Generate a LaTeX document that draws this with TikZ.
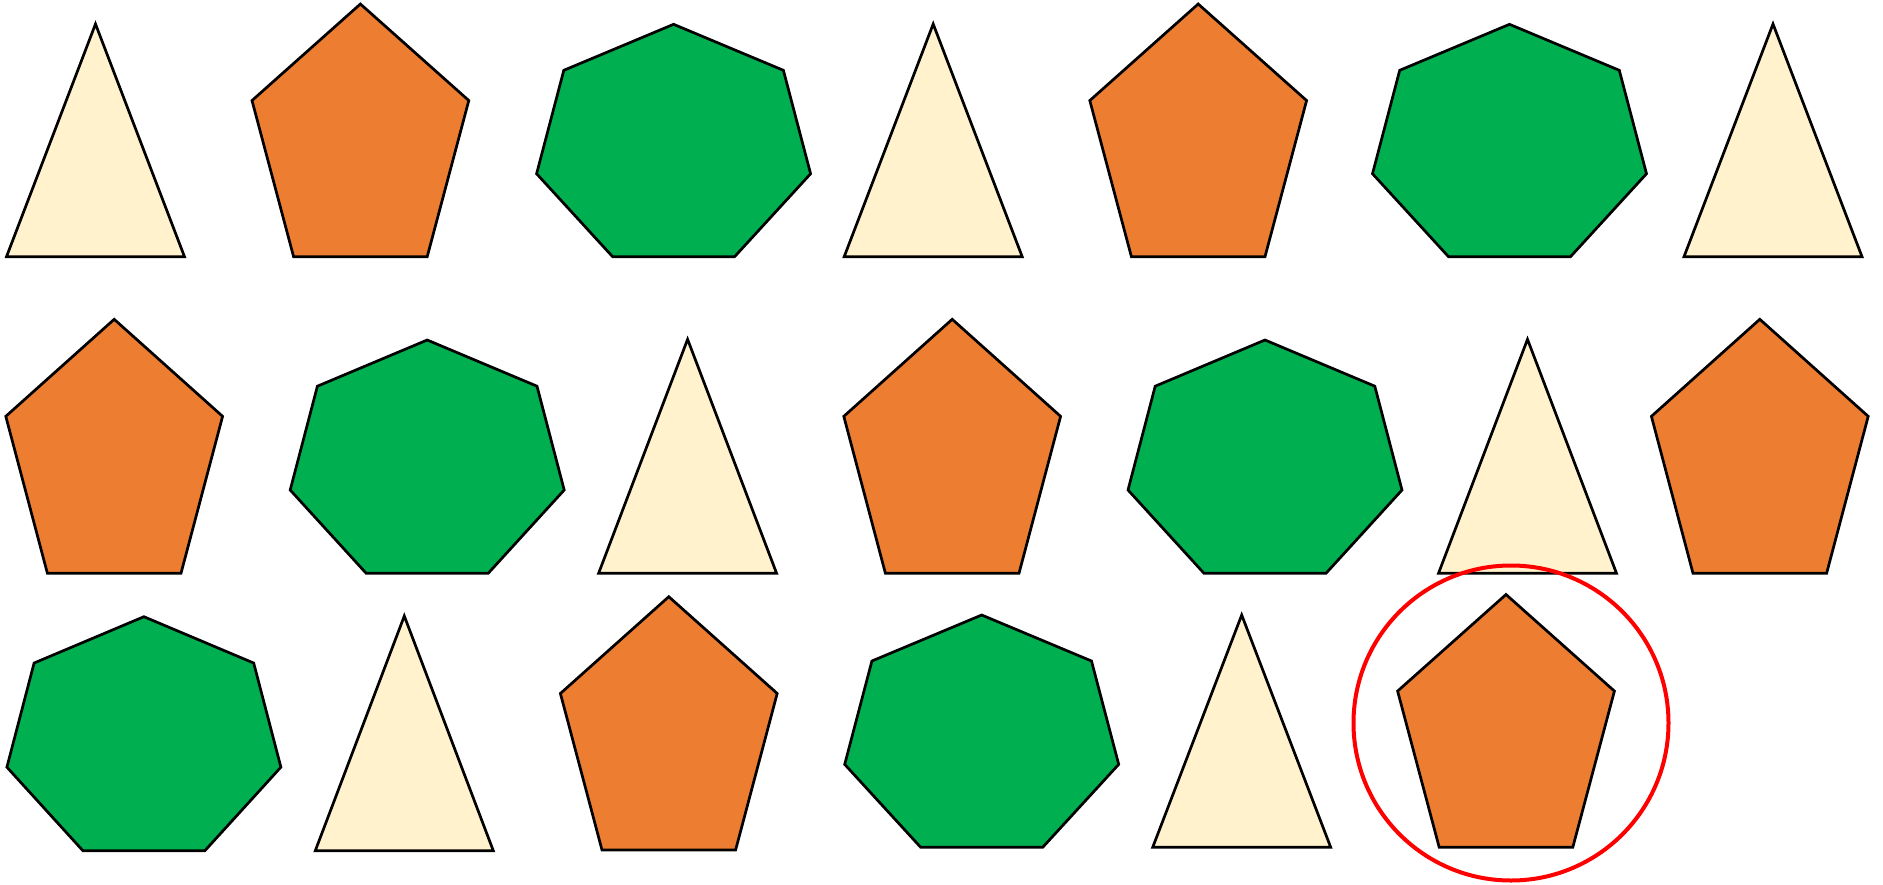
\documentclass[tikz,border=0pt]{standalone}
\definecolor{cream}{HTML}{FFF2CC}
\definecolor{orng}{HTML}{ED7D31}
\definecolor{grn}{HTML}{00B050}
\tikzset{
  tribox/.style={draw=black, fill=cream, line width=2.7pt, line join=miter},
  pentbox/.style={draw=black, fill=orng, line width=2.7pt, line join=miter},
  heptbox/.style={draw=black, fill=grn, line width=2.7pt, line join=miter},
  ringbox/.style={draw=red, line width=4pt}
}
% #1 centre x, #2 top y, #3 bottom y
\newcommand{\shptri}[3]{\path[tribox] (#1,#2) -- ({#1+89},#3) -- ({#1-89},#3) -- cycle;}
\newcommand{\shppent}[3]{\path[pentbox] (#1,#2) -- ({#1+108.4},{#2+0.382*(#3-#2)}) -- ({#1+66.8},#3) -- ({#1-66.8},#3) -- ({#1-108.4},{#2+0.382*(#3-#2)}) -- cycle;}
\newcommand{\shphept}[3]{\path[heptbox] (#1,#2) -- ({#1+109.8},{#2+0.198*(#3-#2)}) -- ({#1+137},{#2+0.643*(#3-#2)}) -- ({#1+61},#3) -- ({#1-61},#3) -- ({#1-137},{#2+0.643*(#3-#2)}) -- ({#1-109.8},{#2+0.198*(#3-#2)}) -- cycle;}
\begin{document}
\begin{tikzpicture}[x=1pt,y=-1pt]
\useasboundingbox (0,0) rectangle (1883,884);
% row 1
\shptri{95.5}{24}{256.7}
\shppent{360.4}{4}{256.7}
\shphept{673.6}{24.3}{256.7}
\shptri{933.2}{24}{256.7}
\shppent{1198.2}{4}{256.7}
\shphept{1509.5}{24.3}{256.7}
\shptri{1773}{24}{256.7}
% row 2
\shppent{114.2}{319.3}{573.3}
\shphept{427.2}{340}{573.3}
\shptri{687.6}{339.3}{573.3}
\shppent{952.2}{319.3}{573.3}
\shphept{1265}{340}{573.3}
\shptri{1527.5}{339.3}{573.3}
\shppent{1759.8}{319.3}{573.3}
% row 3
\shphept{143.9}{616.7}{850.7}
\shptri{404.3}{616}{850.7}
\shppent{668.8}{596.7}{850}
\shphept{981.7}{615}{847.3}
\shptri{1241.7}{615}{847.3}
\shppent{1506}{594.5}{847.3}
\draw[ringbox] (1511,723) circle[radius=157.5];
\end{tikzpicture}
\end{document}
